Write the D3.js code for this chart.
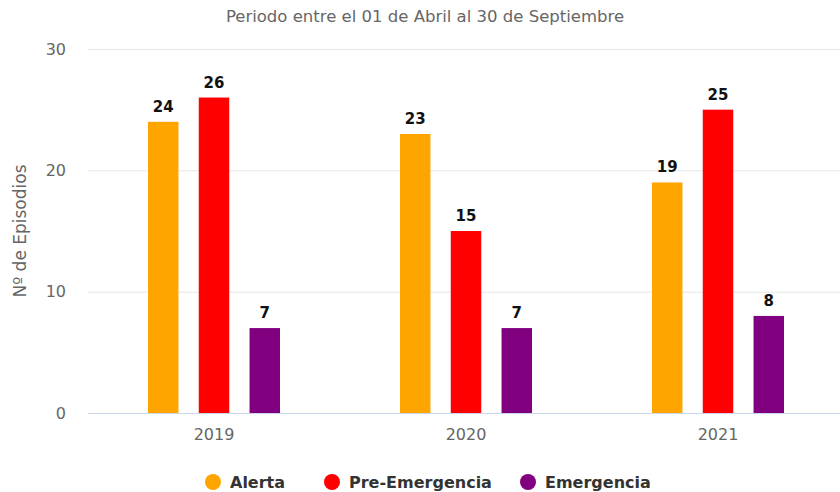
<!DOCTYPE html>
<html>
<head>
<meta charset="utf-8">
<title>Episodios</title>
<style>
  body { margin: 0; background: #fff; }
  svg text { font-family: "DejaVu Sans", sans-serif; }
</style>
</head>
<body>
<script src="https://d3js.org/d3.v7.min.js"></script>
<script>
// datos
const years = ["2019", "2020", "2021"];
const series = ["Alerta", "Pre-Emergencia", "Emergencia"];
const colors = ["#FFA500", "#FF0000", "#800080"];
const alerta = [24, 23, 19];
const preEmergencia = [26, 15, 25];
const emergencia = [7, 7, 8];
const yTicks = [0, 10, 20, 30];

const values = [alerta, preEmergencia, emergencia];

const w = 840, h = 492;
const plotLeft = 88, plotRight = 840, plotTop = 49, plotBottom = 413;

const svg = d3.select("body").append("svg")
  .attr("width", w)
  .attr("height", h);

const x = d3.scaleBand().domain(years).range([plotLeft, plotRight + 4]);
const xs = d3.scaleBand().domain(series).range([0, 132]).paddingInner(0.4);
const y = d3.scaleLinear().domain([0, 30]).range([plotBottom, plotTop]);

// grid
svg.append("g")
  .selectAll("line")
  .data(yTicks.slice(1))
  .join("line")
  .attr("x1", plotLeft).attr("x2", plotRight)
  .attr("y1", d => y(d) + 0.5).attr("y2", d => y(d) + 0.5)
  .attr("stroke", "#e6e6e6");

const yAxis = d3.axisLeft(y).tickValues(yTicks).tickSize(0).tickPadding(22);
const gy = svg.append("g").attr("transform", `translate(${plotLeft},0)`).call(yAxis);
gy.select(".domain").remove();
gy.selectAll("text").attr("fill", "#666").style("font-size", "16px");

const xAxis = d3.axisBottom(x).tickSize(0).tickPadding(16);
const gx = svg.append("g").attr("transform", `translate(0,${plotBottom})`).call(xAxis);
gx.select(".domain").attr("stroke", "#ccd6eb").attr("d", `M${plotLeft},0.5H${plotRight}`);
gx.selectAll("text").attr("fill", "#666").style("font-size", "16px");

// barras
series.forEach((s, si) => {
  const g = svg.append("g");
  g.selectAll("rect")
    .data(values[si])
    .join("rect")
    .attr("x", (d, i) => x(years[i]) + x.bandwidth() / 2 - 66 + xs(s))
    .attr("width", xs.bandwidth())
    .attr("y", d => y(d))
    .attr("height", d => y(0) - y(d))
    .attr("fill", colors[si]);
  g.selectAll("text")
    .data(values[si])
    .join("text")
    .attr("x", (d, i) => x(years[i]) + x.bandwidth() / 2 - 66 + xs(s) + xs.bandwidth() / 2)
    .attr("y", d => y(d) - 10)
    .attr("text-anchor", "middle")
    .attr("fill", "#111")
    .style("font-size", "15px")
    .style("font-weight", "bold")
    .text(d => d);
});

// titulo
svg.append("text")
  .attr("x", 425).attr("y", 22)
  .attr("text-anchor", "middle")
  .attr("fill", "#666")
  .style("font-size", "16.5px")
  .text("Periodo entre el 01 de Abril al 30 de Septiembre");

svg.append("text")
  .attr("transform", `translate(26,${(plotTop + plotBottom) / 2}) rotate(-90)`)
  .attr("text-anchor", "middle")
  .attr("fill", "#666")
  .style("font-size", "17px")
  .text("Nº de Episodios");

// leyenda
const legendX = [213, 332, 528];
const lg = svg.append("g").selectAll("g")
  .data(series)
  .join("g")
  .attr("transform", (d, i) => `translate(${legendX[i]},483)`);
lg.append("circle").attr("r", 8).attr("cy", -1).attr("fill", (d, i) => colors[i]);
lg.append("text")
  .attr("x", 17).attr("y", 5)
  .attr("fill", "#333")
  .style("font-size", "16px")
  .style("font-weight", "bold")
  .text(d => d);
</script>
</body>
</html>
